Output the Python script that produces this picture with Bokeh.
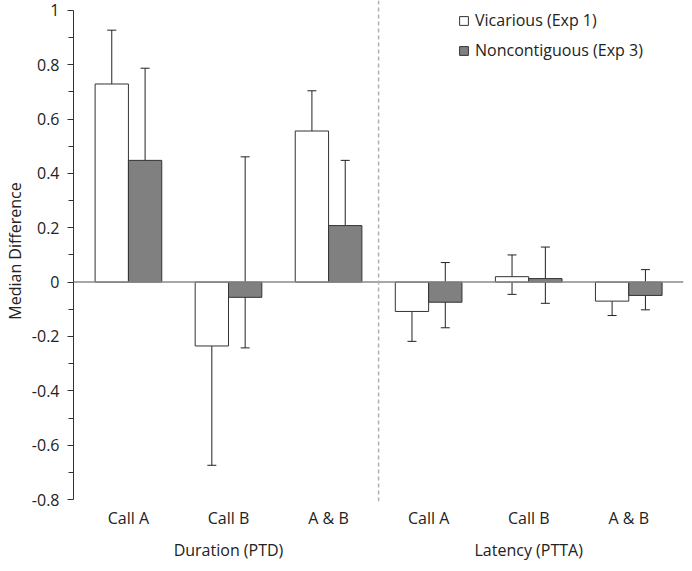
from bokeh.plotting import figure
from bokeh.models import (ColumnDataSource, Range1d, FixedTicker, LinearAxis, Span,
                          Whisker, TeeHead, Legend, LegendItem)
from bokeh.embed import file_html
from bokeh.resources import INLINE

# ---- data ----
categories = ["Call A", "Call B", "A & B", "Call A", "Call B", "A & B"]
groups = ["Duration (PTD)", "Latency (PTTA)"]
group_pos = [1, 4]
series_names = ["Vicarious (Exp 1)", "Noncontiguous (Exp 3)"]

vicarious = [0.729, -0.235, 0.556, -0.108, 0.020, -0.070]
vicarious_lo = [0.556, -0.674, 0.254, -0.218, -0.045, -0.123]
vicarious_hi = [0.927, -0.003, 0.704, -0.068, 0.100, -0.020]

noncontig = [0.448, -0.056, 0.208, -0.074, 0.013, -0.049]
noncontig_lo = [0.150, -0.242, 0.062, -0.168, -0.078, -0.102]
noncontig_hi = [0.787, 0.461, 0.448, 0.072, 0.129, 0.046]

y_ticks = [-0.8, -0.6, -0.4, -0.2, 0, 0.2, 0.4, 0.6, 0.8, 1]
y_tick_labels = ["-0.8", "-0.6", "-0.4", "-0.2", "0", "0.2", "0.4", "0.6", "0.8", "1"]
y_minor = [-0.7, -0.5, -0.3, -0.1, 0.1, 0.3, 0.5, 0.7, 0.9]

# ---- style ----
FONT = "Open Sans"
FS = "16px"
TXT = "#222222"
BAR_W = 0.333
OFF = BAR_W / 2

xs = list(range(len(categories)))
src_v = ColumnDataSource(dict(x=[i - OFF for i in xs], top=vicarious,
                              lo=vicarious_lo, hi=vicarious_hi))
src_n = ColumnDataSource(dict(x=[i + OFF for i in xs], top=noncontig,
                              lo=noncontig_lo, hi=noncontig_hi))

p = figure(width=684, height=563, output_backend="svg", toolbar_location=None,
           x_range=Range1d(-0.549, 5.547), y_range=Range1d(-0.80724, 1.03622),
           min_border_left=67, min_border_right=1, min_border_top=0, min_border_bottom=54,
           x_axis_type=None)
p.outline_line_color = None
p.xgrid.visible = False
p.ygrid.visible = False
p.background_fill_color = "white"
p.border_fill_color = "white"

rv = p.vbar(x="x", top="top", bottom=0, width=BAR_W, source=src_v,
            fill_color="white", line_color="#333333", line_width=1)
rn = p.vbar(x="x", top="top", bottom=0, width=BAR_W, source=src_n,
            fill_color="#808080", line_color="#333333", line_width=1)

for src in (src_v, src_n):
    w = Whisker(source=src, base="x", upper="hi", lower="lo", dimension="height",
                line_color="#222222", line_width=1,
                upper_head=TeeHead(size=9, line_color="#222222", line_width=1),
                lower_head=TeeHead(size=9, line_color="#222222", line_width=1))
    p.add_layout(w)

p.add_layout(Span(location=0, dimension="width", line_color="#8a8a8a", line_width=1.5))
p.add_layout(Span(location=2.5, dimension="height", line_color="#b0b0b0",
                  line_width=1.5, line_dash="4 3"))

# y axis
ya = p.yaxis[0]
ya.ticker = FixedTicker(ticks=y_ticks, minor_ticks=y_minor)
ya.major_label_overrides = {t: l for t, l in zip(y_ticks, y_tick_labels)}
ya.bounds = (-0.8, 1)
ya.axis_line_color = "#333333"
ya.major_tick_line_color = "#333333"
ya.minor_tick_line_color = "#333333"
ya.major_tick_in = 0
ya.major_tick_out = 6
ya.minor_tick_in = 0
ya.minor_tick_out = 5
ya.major_label_standoff = 8
ya.major_label_text_font = FONT
ya.major_label_text_font_size = FS
ya.major_label_text_color = TXT
ya.axis_label = "Median Difference"
ya.axis_label_text_font = FONT
ya.axis_label_text_font_size = FS
ya.axis_label_text_font_style = "normal"
ya.axis_label_text_color = TXT
ya.axis_label_standoff = 3

# x axes: categories then groups
xa = LinearAxis(ticker=FixedTicker(ticks=xs),
                major_label_overrides={i: c for i, c in enumerate(categories)})
xa.axis_line_color = None
xa.major_tick_line_color = None
xa.minor_tick_line_color = None
xa.major_tick_in = 0
xa.major_tick_out = 0
xa.major_label_standoff = 5
xa.major_label_text_font = FONT
xa.major_label_text_font_size = FS
xa.major_label_text_color = TXT
p.add_layout(xa, "below")

ga = LinearAxis(ticker=FixedTicker(ticks=group_pos),
                major_label_overrides={g: n for g, n in zip(group_pos, groups)})
ga.axis_line_color = None
ga.major_tick_line_color = None
ga.minor_tick_line_color = None
ga.major_tick_in = 0
ga.major_tick_out = 0
ga.major_label_standoff = 7
ga.major_label_text_font = FONT
ga.major_label_text_font_size = FS
ga.major_label_text_color = TXT
p.add_layout(ga, "below")

legend = Legend(items=[LegendItem(label=series_names[0], renderers=[rv]),
                       LegendItem(label=series_names[1], renderers=[rn])],
                location=(385, 440), glyph_width=11, glyph_height=11,
                label_height=20, spacing=8, padding=0, label_standoff=6,
                border_line_color=None, background_fill_alpha=0,
                label_text_font=FONT, label_text_font_size=FS,
                label_text_color=TXT)
p.add_layout(legend)

open("out.html", "w").write(file_html(p, INLINE))
